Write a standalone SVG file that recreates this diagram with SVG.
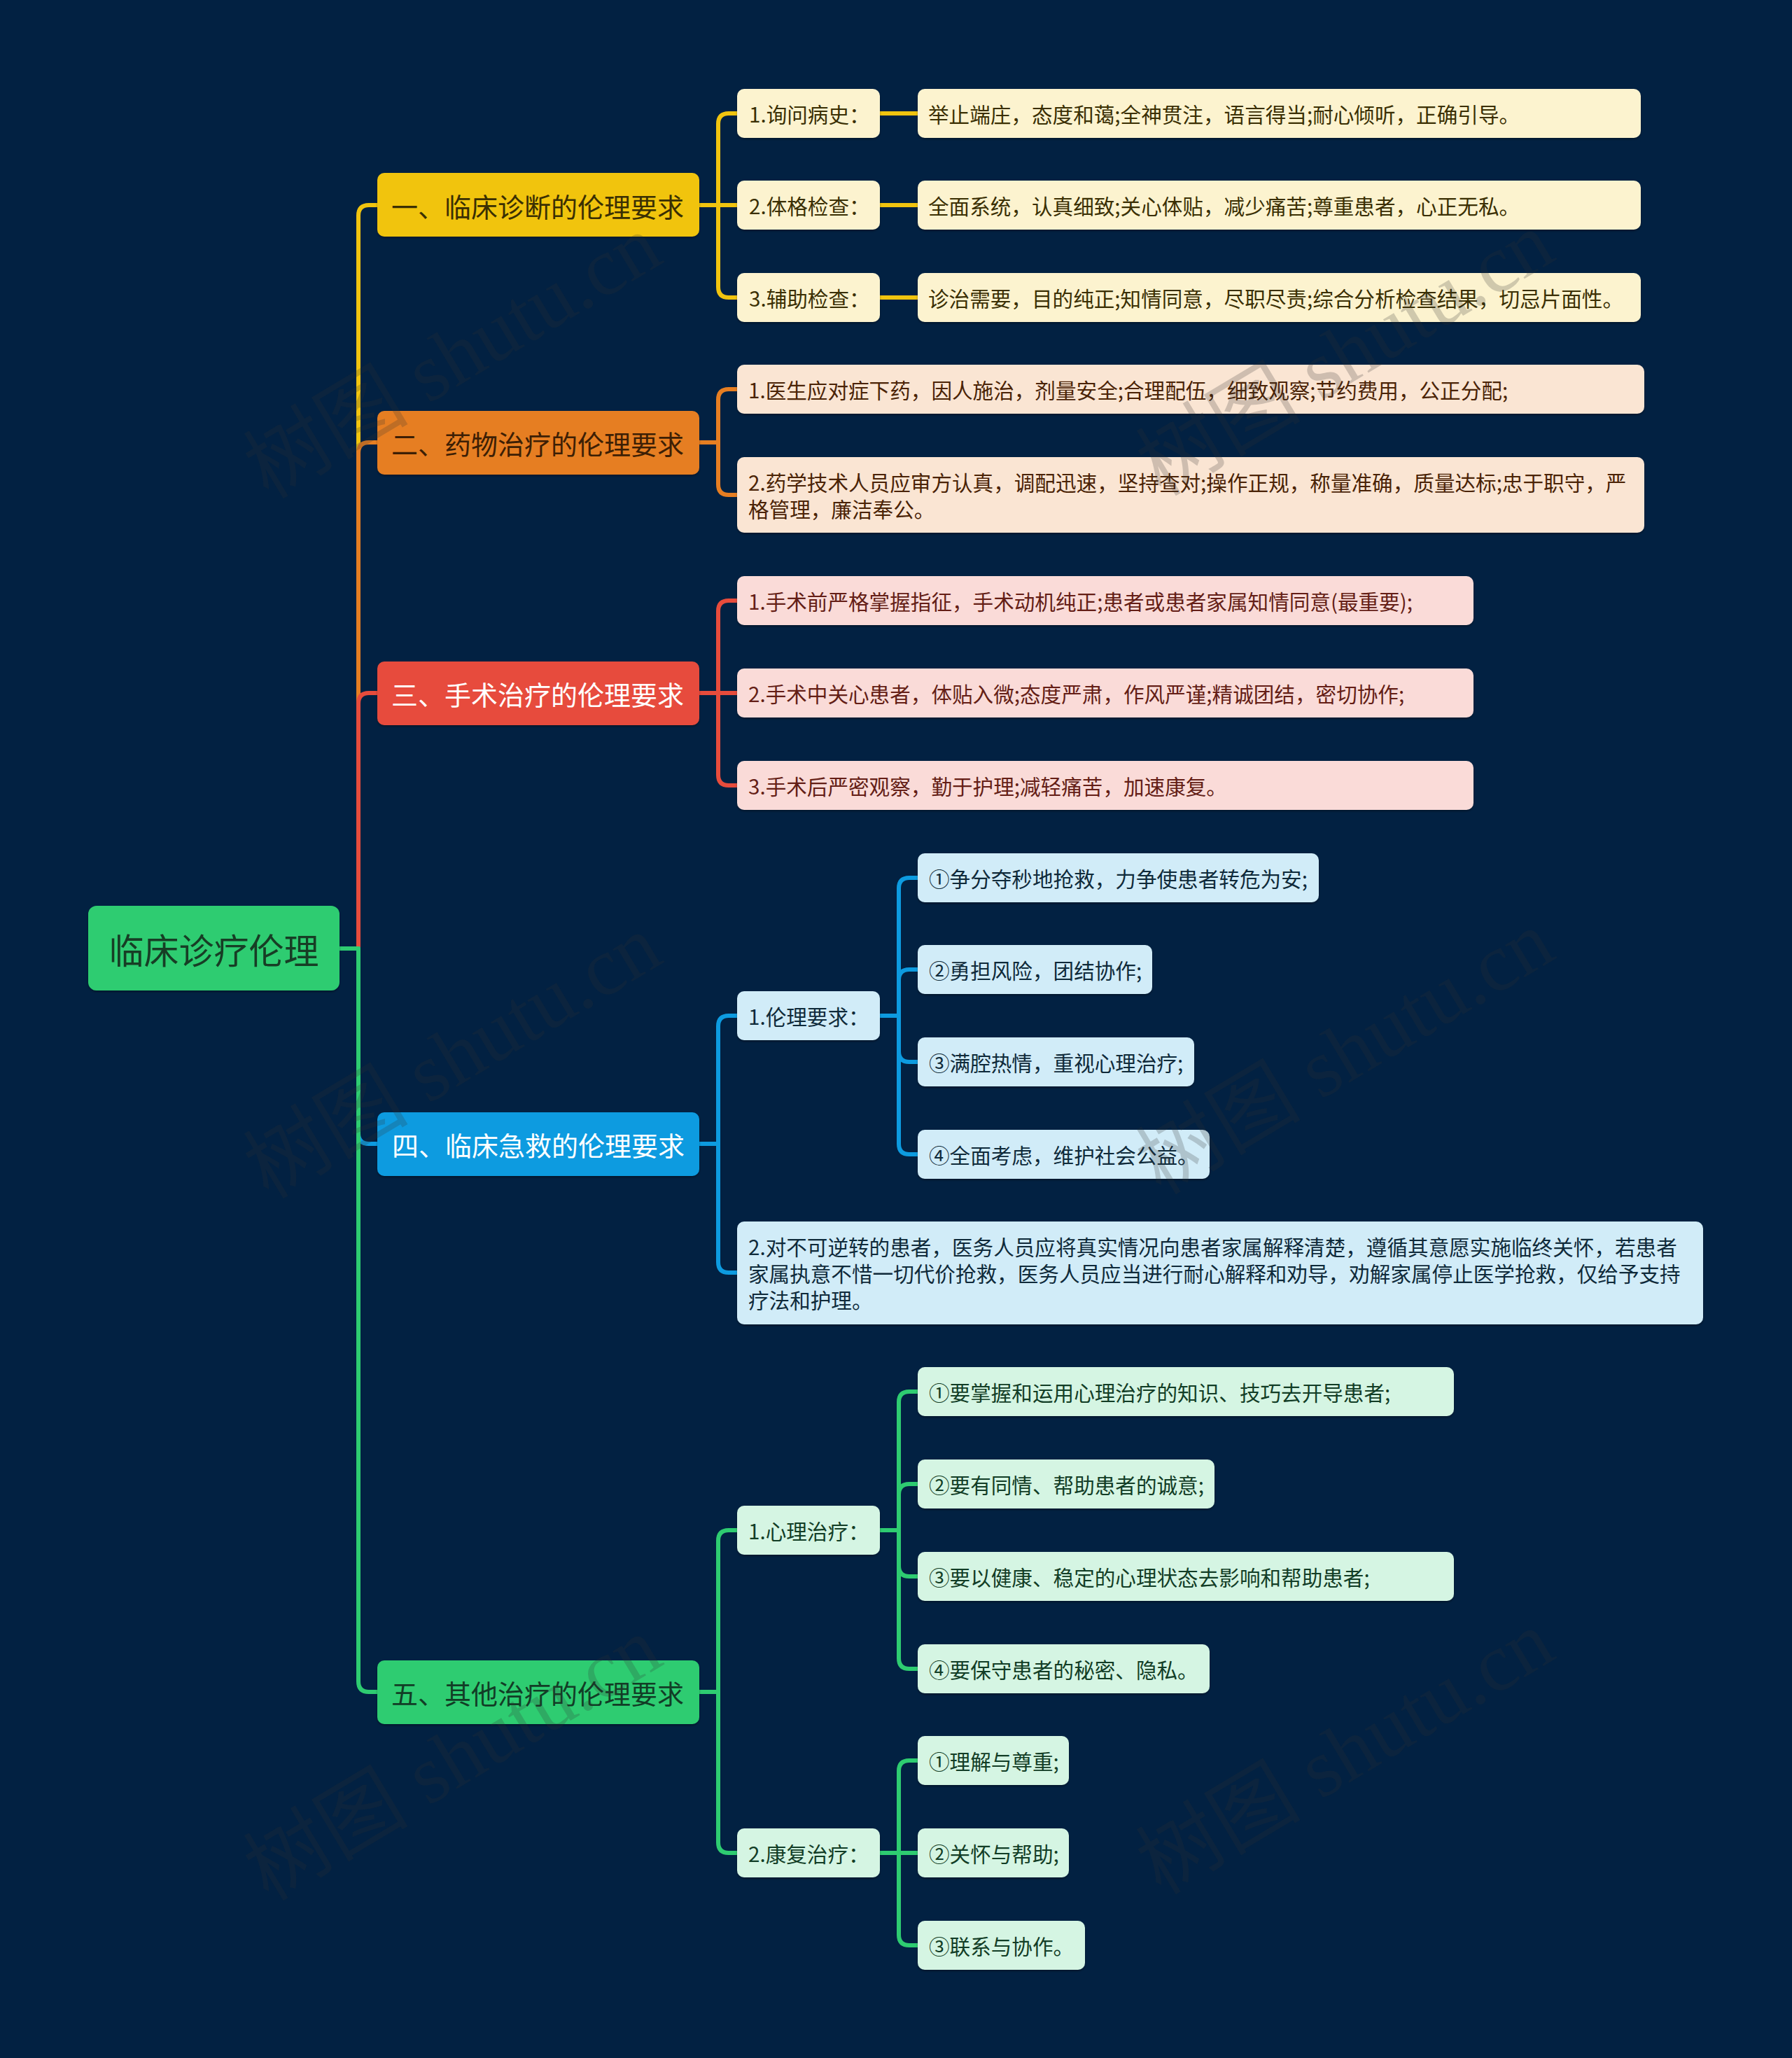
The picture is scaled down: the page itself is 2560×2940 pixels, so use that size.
<svg xmlns="http://www.w3.org/2000/svg" width="2560" height="2940" viewBox="0 0 2560 2940">
<style>
text { font-family: "Noto Sans CJK SC", "Noto Sans", sans-serif; dominant-baseline: central; }
.c { fill: none; stroke-width: 6; stroke-linejoin: round; }
.y { stroke: #f1c40f; } .o { stroke: #e67e22; } .r { stroke: #e74c3c; } .b { stroke: #0d9be0; } .g { stroke: #2ecc71; }
.box { filter: url(#sh); }
.l1 { font-size: 38px; }
.l2 { font-size: 29.6px; }
.fy { fill: #fcf3cf; } .fo { fill: #fae5d3; } .fr { fill: #fadbd8; } .fb { fill: #d1ecf8; } .fg { fill: #d5f5e3; }
.ty { fill: #3a2f03; } .to { fill: #4a2306; } .tr { fill: #641e16; } .tb { fill: #0f2a3a; } .tg { fill: #123d26; }
.wm { font-family: "Liberation Serif", "Noto Sans CJK SC", serif; font-size: 118px; fill: #303030; fill-opacity: 0.22; text-anchor: middle; }
</style>
<defs>
<filter id="sh" x="-5%" y="-10%" width="110%" height="130%">
<feDropShadow dx="0" dy="2" stdDeviation="1.5" flood-color="#000000" flood-opacity="0.35"/>
</filter>
</defs>
<rect x="0" y="0" width="2560" height="2940" fill="#022142"/>

<g id="connectors">
<path class="c y" d="M485 1355 H512 V308 Q512 293 527 293 H539"/>
<path class="c o" d="M485 1355 H512 V647 Q512 632 527 632 H539"/>
<path class="c r" d="M485 1355 H512 V1005 Q512 990 527 990 H539"/>
<path class="c b" d="M485 1355 H512 V1619 Q512 1634 527 1634 H539"/>
<path class="c g" d="M485 1355 H512 V2402 Q512 2417 527 2417 H539"/>

<path class="c y" d="M999 293 H1026 V177 Q1026 162 1041 162 H1053"/>
<path class="c y" d="M999 293 H1053"/>
<path class="c y" d="M999 293 H1026 V410 Q1026 425 1041 425 H1053"/>
<path class="c y" d="M1257 162 H1311"/>
<path class="c y" d="M1257 293 H1311"/>
<path class="c y" d="M1257 425 H1311"/>

<path class="c o" d="M999 632 H1026 V571 Q1026 556 1041 556 H1053"/>
<path class="c o" d="M999 632 H1026 V692 Q1026 707 1041 707 H1053"/>

<path class="c r" d="M999 990 H1026 V873 Q1026 858 1041 858 H1053"/>
<path class="c r" d="M999 990 H1053"/>
<path class="c r" d="M999 990 H1026 V1107 Q1026 1122 1041 1122 H1053"/>

<path class="c b" d="M999 1634 H1026 V1466 Q1026 1451 1041 1451 H1053"/>
<path class="c b" d="M999 1634 H1026 V1803 Q1026 1818 1041 1818 H1053"/>
<path class="c b" d="M1257 1451 H1284 V1269 Q1284 1254 1299 1254 H1311"/>
<path class="c b" d="M1257 1451 H1284 V1400 Q1284 1385 1299 1385 H1311"/>
<path class="c b" d="M1257 1451 H1284 V1502 Q1284 1517 1299 1517 H1311"/>
<path class="c b" d="M1257 1451 H1284 V1634 Q1284 1649 1299 1649 H1311"/>

<path class="c g" d="M999 2417 H1026 V2201 Q1026 2186 1041 2186 H1053"/>
<path class="c g" d="M999 2417 H1026 V2632 Q1026 2647 1041 2647 H1053"/>
<path class="c g" d="M1257 2186 H1284 V2003 Q1284 1988 1299 1988 H1311"/>
<path class="c g" d="M1257 2186 H1284 V2135 Q1284 2120 1299 2120 H1311"/>
<path class="c g" d="M1257 2186 H1284 V2237 Q1284 2252 1299 2252 H1311"/>
<path class="c g" d="M1257 2186 H1284 V2369 Q1284 2384 1299 2384 H1311"/>
<path class="c g" d="M1257 2647 H1284 V2530 Q1284 2515 1299 2515 H1311"/>
<path class="c g" d="M1257 2647 H1311"/>
<path class="c g" d="M1257 2647 H1284 V2764 Q1284 2779 1299 2779 H1311"/>
</g>

<g id="root">
<rect class="box" x="126" y="1294" width="359" height="121" rx="12" fill="#2ecc71"/>
<text x="305.5" y="1355" font-size="50" text-anchor="middle" fill="#173d25">临床诊疗伦理</text>
</g>

<g id="n1">
<rect class="box" x="539" y="247" width="460" height="91" rx="10" fill="#f1c40f"/>
<text class="l1" x="559" y="293" fill="#3a2f03">一、临床诊断的伦理要求</text>
</g>
<g id="n1-1">
<rect class="box fy" x="1053" y="127" width="204" height="70" rx="10"/>
<text class="l2 ty" x="1070" y="162">1.询问病史：</text>
</g>
<g id="n1-1-1">
<rect class="box fy" x="1311" y="127" width="1033" height="70" rx="10"/>
<text class="l2 ty" x="1326" y="162">举止端庄，态度和蔼;全神贯注，语言得当;耐心倾听，正确引导。</text>
</g>
<g id="n1-2">
<rect class="box fy" x="1053" y="258" width="204" height="70" rx="10"/>
<text class="l2 ty" x="1070" y="293">2.体格检查：</text>
</g>
<g id="n1-2-1">
<rect class="box fy" x="1311" y="258" width="1033" height="70" rx="10"/>
<text class="l2 ty" x="1326" y="293">全面系统，认真细致;关心体贴，减少痛苦;尊重患者，心正无私。</text>
</g>
<g id="n1-3">
<rect class="box fy" x="1053" y="390" width="204" height="70" rx="10"/>
<text class="l2 ty" x="1070" y="425">3.辅助检查：</text>
</g>
<g id="n1-3-1">
<rect class="box fy" x="1311" y="390" width="1033" height="70" rx="10"/>
<text class="l2 ty" x="1326" y="425">诊治需要，目的纯正;知情同意，尽职尽责;综合分析检查结果，切忌片面性。</text>
</g>

<g id="n2">
<rect class="box" x="539" y="587" width="460" height="91" rx="10" fill="#e67e22"/>
<text class="l1" x="559" y="632" fill="#3d1f05">二、药物治疗的伦理要求</text>
</g>
<g id="n2-1">
<rect class="box fo" x="1053" y="521" width="1296" height="70" rx="10"/>
<text class="l2 to" x="1069" y="556">1.医生应对症下药，因人施治，剂量安全;合理配伍，细致观察;节约费用，公正分配;</text>
</g>
<g id="n2-2">
<rect class="box fo" x="1053" y="653" width="1296" height="108" rx="10"/>
<text class="l2 to"><tspan x="1069" y="688">2.药学技术人员应审方认真，调配迅速，坚持查对;操作正规，称量准确，质量达标;忠于职守，严</tspan><tspan x="1069" y="726">格管理，廉洁奉公。</tspan></text>
</g>

<g id="n3">
<rect class="box" x="539" y="945" width="460" height="91" rx="10" fill="#e74c3c"/>
<text class="l1" x="559" y="990" fill="#ffffff">三、手术治疗的伦理要求</text>
</g>
<g id="n3-1">
<rect class="box fr" x="1053" y="823" width="1052" height="70" rx="10"/>
<text class="l2 tr" x="1069" y="858">1.手术前严格掌握指征，手术动机纯正;患者或患者家属知情同意(最重要);</text>
</g>
<g id="n3-2">
<rect class="box fr" x="1053" y="955" width="1052" height="70" rx="10"/>
<text class="l2 tr" x="1069" y="990">2.手术中关心患者，体贴入微;态度严肃，作风严谨;精诚团结，密切协作;</text>
</g>
<g id="n3-3">
<rect class="box fr" x="1053" y="1087" width="1052" height="70" rx="10"/>
<text class="l2 tr" x="1069" y="1122">3.手术后严密观察，勤于护理;减轻痛苦，加速康复。</text>
</g>

<g id="n4">
<rect class="box" x="539" y="1589" width="460" height="91" rx="10" fill="#0d9be0"/>
<text class="l1" x="560" y="1634" fill="#ffffff">四、临床急救的伦理要求</text>
</g>
<g id="n4-1">
<rect class="box fb" x="1053" y="1416" width="204" height="70" rx="10"/>
<text class="l2 tb" x="1069" y="1451">1.伦理要求：</text>
</g>
<g id="n4-1-1">
<rect class="box fb" x="1311" y="1219" width="573" height="70" rx="10"/>
<text class="l2 tb" x="1327" y="1254">①争分夺秒地抢救，力争使患者转危为安;</text>
</g>
<g id="n4-1-2">
<rect class="box fb" x="1311" y="1350" width="335" height="70" rx="10"/>
<text class="l2 tb" x="1327" y="1385">②勇担风险，团结协作;</text>
</g>
<g id="n4-1-3">
<rect class="box fb" x="1311" y="1482" width="395" height="70" rx="10"/>
<text class="l2 tb" x="1327" y="1517">③满腔热情，重视心理治疗;</text>
</g>
<g id="n4-1-4">
<rect class="box fb" x="1311" y="1614" width="417" height="70" rx="10"/>
<text class="l2 tb" x="1327" y="1649">④全面考虑，维护社会公益。</text>
</g>
<g id="n4-2">
<rect class="box fb" x="1053" y="1745" width="1380" height="147" rx="10"/>
<text class="l2 tb"><tspan x="1069" y="1780">2.对不可逆转的患者，医务人员应将真实情况向患者家属解释清楚，遵循其意愿实施临终关怀，若患者</tspan><tspan x="1069" y="1818">家属执意不惜一切代价抢救，医务人员应当进行耐心解释和劝导，劝解家属停止医学抢救，仅给予支持</tspan><tspan x="1069" y="1856">疗法和护理。</tspan></text>
</g>

<g id="n5">
<rect class="box" x="539" y="2372" width="460" height="91" rx="10" fill="#2ecc71"/>
<text class="l1" x="559" y="2417" fill="#123d26">五、其他治疗的伦理要求</text>
</g>
<g id="n5-1">
<rect class="box fg" x="1053" y="2151" width="204" height="70" rx="10"/>
<text class="l2 tg" x="1069" y="2186">1.心理治疗：</text>
</g>
<g id="n5-1-1">
<rect class="box fg" x="1311" y="1953" width="766" height="70" rx="10"/>
<text class="l2 tg" x="1327" y="1988">①要掌握和运用心理治疗的知识、技巧去开导患者;</text>
</g>
<g id="n5-1-2">
<rect class="box fg" x="1311" y="2085" width="424" height="70" rx="10"/>
<text class="l2 tg" x="1327" y="2120">②要有同情、帮助患者的诚意;</text>
</g>
<g id="n5-1-3">
<rect class="box fg" x="1311" y="2217" width="766" height="70" rx="10"/>
<text class="l2 tg" x="1327" y="2252">③要以健康、稳定的心理状态去影响和帮助患者;</text>
</g>
<g id="n5-1-4">
<rect class="box fg" x="1311" y="2349" width="417" height="70" rx="10"/>
<text class="l2 tg" x="1327" y="2384">④要保守患者的秘密、隐私。</text>
</g>
<g id="n5-2">
<rect class="box fg" x="1053" y="2612" width="204" height="70" rx="10"/>
<text class="l2 tg" x="1069" y="2647">2.康复治疗：</text>
</g>
<g id="n5-2-1">
<rect class="box fg" x="1311" y="2480" width="216" height="70" rx="10"/>
<text class="l2 tg" x="1327" y="2515">①理解与尊重;</text>
</g>
<g id="n5-2-2">
<rect class="box fg" x="1311" y="2612" width="216" height="70" rx="10"/>
<text class="l2 tg" x="1327" y="2647">②关怀与帮助;</text>
</g>
<g id="n5-2-3">
<rect class="box fg" x="1311" y="2744" width="239" height="70" rx="10"/>
<text class="l2 tg" x="1327" y="2779">③联系与协作。</text>
</g>

<g id="watermark">
<text class="wm" transform="translate(647 510) rotate(-31)">树图 shutu.cn</text>
<text class="wm" transform="translate(1922 506) rotate(-31)">树图 shutu.cn</text>
<text class="wm" transform="translate(647 1510) rotate(-31)">树图 shutu.cn</text>
<text class="wm" transform="translate(1922 1504) rotate(-31)">树图 shutu.cn</text>
<text class="wm" transform="translate(647 2513) rotate(-31)">树图 shutu.cn</text>
<text class="wm" transform="translate(1922 2504) rotate(-31)">树图 shutu.cn</text>
</g>
</svg>
